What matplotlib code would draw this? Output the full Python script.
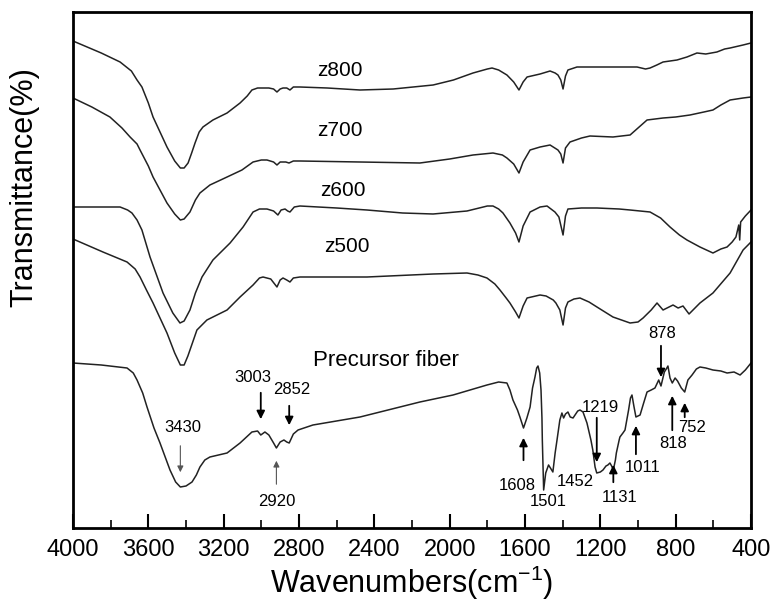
import numpy as np
import matplotlib
matplotlib.use('Agg')
import matplotlib.pyplot as plt
from matplotlib.ticker import MultipleLocator

plt.rcParams['font.family'] = ['Liberation Sans', 'DejaVu Sans']

# FTIR spectra, wavenumber (cm-1) vs offset transmittance (arb. units)
z800_w = [4000, 3850, 3750, 3690, 3660, 3634, 3600, 3575, 3501, 3460, 3430, 3410, 3389,
          3370, 3352, 3330, 3310, 3257, 3182, 3113, 3075, 3050, 3020, 2991, 2960, 2935,
          2917, 2900, 2885, 2865, 2848, 2830, 2795, 2650, 2476, 2300, 2088, 1980, 1876,
          1800, 1775, 1740, 1696, 1660, 1632, 1610, 1589, 1520, 1467, 1440, 1425, 1410,
          1398, 1385, 1372, 1324, 1200, 1005, 960, 936, 900, 867, 793, 740, 687, 640,
          581, 540, 511, 442, 400]
z800_t = [487, 475, 466, 457, 448, 441, 425, 411, 381, 367, 360, 360, 365,
          375, 385, 396, 401, 408, 415, 425, 432, 438, 440, 440, 440, 439,
          436, 439, 440, 440, 438, 441, 441, 440, 438, 439, 443, 448, 455,
          459, 460, 458, 453, 446, 438, 446, 451, 454, 457, 455, 453, 448,
          439, 452, 458, 461, 461, 461, 459, 460, 463, 466, 468, 471, 475, 474,
          476, 479, 480, 483, 485]

z700_w = [4000, 3900, 3804, 3740, 3697, 3660, 3644, 3600, 3575, 3501, 3460, 3430, 3410,
          3379, 3350, 3326, 3273, 3182, 3103, 3044, 3000, 2970, 2935, 2917, 2900, 2890,
          2870, 2853, 2830, 2795, 2476, 2158, 2000, 1876, 1770, 1720, 1696, 1660, 1632,
          1610, 1573, 1520, 1467, 1425, 1410, 1398, 1385, 1361, 1300, 1255, 1133, 1042,
          1000, 952, 867, 800, 724, 650, 602, 560, 511, 442, 400]
z700_t = [430, 421, 411, 400, 391, 384, 378, 362, 351, 325, 314, 308, 309,
          316, 328, 335, 343, 351, 358, 366, 368, 368, 366, 363, 366, 366,
          366, 365, 367, 367, 366, 365, 369, 373, 375, 373, 370, 364, 355,
          366, 378, 381, 383, 378, 374, 365, 380, 386, 390, 392, 391, 393,
          400, 408, 410, 411, 413, 416, 418, 423, 428, 430, 431]

z600_w = [4000, 3750, 3710, 3687, 3660, 3634, 3591, 3522, 3470, 3432, 3410, 3379, 3350,
          3315, 3257, 3166, 3097, 3044, 3010, 2970, 2935, 2912, 2895, 2874, 2860, 2848,
          2825, 2795, 2600, 2439, 2250, 2088, 1908, 1800, 1770, 1740, 1717, 1680, 1650,
          1632, 1610, 1573, 1520, 1483, 1441, 1420, 1398, 1385, 1372, 1300, 1218, 1100,
          1042, 936, 880, 830, 780, 740, 671, 602, 560, 527, 500, 480, 465, 460, 455,
          430, 400]
z600_t = [321, 321, 318, 315, 308, 298, 271, 235, 215, 205, 207, 218, 235,
          251, 268, 285, 301, 316, 319, 319, 317, 313, 318, 319, 317, 316,
          321, 322, 320, 318, 315, 314, 317, 322, 322, 319, 315, 305, 295,
          286, 302, 316, 321, 322, 316, 311, 293, 312, 319, 320, 320, 319,
          318, 316, 310, 301, 293, 288, 281, 275, 279, 281, 286, 291, 303, 288, 306,
          312, 318]

z500_w = [4000, 3841, 3713, 3670, 3644, 3610, 3575, 3501, 3460, 3430, 3410, 3390, 3342,
          3289, 3182, 3113, 3044, 3010, 2991, 2950, 2917, 2900, 2885, 2865, 2848, 2830,
          2795, 2439, 2088, 1908, 1850, 1802, 1760, 1733, 1700, 1680, 1650, 1632, 1610,
          1589, 1520, 1488, 1450, 1436, 1415, 1398, 1385, 1372, 1340, 1308, 1260, 1218,
          1133, 1042, 1000, 973, 930, 899, 867, 814, 787, 761, 729, 671, 602, 511, 442,
          400]
z500_t = [289, 276, 266, 259, 251, 238, 225, 195, 175, 163, 163, 172, 198,
          208, 218, 231, 243, 250, 251, 249, 241, 248, 250, 248, 246, 250,
          251, 251, 254, 255, 253, 250, 244, 238, 230, 225, 216, 210, 222,
          230, 233, 232, 228, 225, 218, 203, 220, 226, 229, 230, 226, 221,
          211, 205, 206, 210, 218, 225, 218, 223, 220, 222, 214, 225, 235, 255, 278,
          286]

fiber_w = [4000, 3850, 3713, 3680, 3660, 3630, 3607, 3570, 3538, 3485, 3455, 3430, 3400,
           3368, 3345, 3326, 3300, 3273, 3182, 3113, 3050, 3020, 3003, 2981, 2960, 2935,
           2920, 2900, 2880, 2865, 2852, 2830, 2805, 2726, 2476, 2158, 1982, 1802, 1740,
           1696, 1680, 1664, 1640, 1627, 1608, 1590, 1573, 1560, 1547, 1538, 1531, 1522,
           1515, 1510, 1508, 1501, 1490, 1475, 1465, 1452, 1440, 1430, 1415, 1404, 1395,
           1385, 1372, 1360, 1345, 1320, 1308, 1292, 1271, 1250, 1240, 1228, 1219, 1200,
           1186, 1170, 1160, 1149, 1140, 1131, 1120, 1115, 1100, 1096, 1080, 1069, 1050,
           1040, 1032, 1022, 1011, 1000, 989, 970, 952, 930, 910, 890, 878, 860, 850,
           841, 830, 818, 803, 790, 770, 752, 735, 713, 690, 671, 640, 602, 560, 527,
           490, 458, 430, 400]
fiber_t = [165, 163, 160, 155, 148, 135, 121, 100, 85, 58, 46, 41, 42,
           46, 53, 61, 68, 71, 75, 85, 96, 97, 93, 96, 93, 85,
           80, 86, 88, 86, 85, 94, 98, 103, 111, 126, 133, 143, 146,
           145, 138, 128, 118, 111, 100, 110, 121, 140, 151, 160, 162, 155,
           138, 110, 88, 38, 55, 63, 60, 56, 75, 88, 108, 115, 110,
           114, 116, 111, 110, 117, 118, 116, 105, 88, 78, 61, 55, 56,
           58, 62, 63, 65, 62, 58, 68, 75, 88, 91, 95, 98, 118,
           130, 133, 122, 111, 112, 113, 125, 136, 138, 140, 148, 142, 156, 159,
           162, 150, 145, 150, 147, 140, 136, 148, 153, 159, 161, 160, 158, 157, 155,
           156, 153, 158, 165]

curves = [(z800_w, z800_t), (z700_w, z700_t), (z600_w, z600_t),
          (z500_w, z500_t), (fiber_w, fiber_t)]

names = ['z800', 'z700', 'z600', 'z500', 'Precursor fiber']
name_pos = [(2582, 458), (2582, 398), (2566, 338), (2545, 281), (2338, 168)]

# peak labels: (text, wavenumber, text x, text y, arrow start, arrow end, thin)
peaks = [
    ('3430', 3430, 3416, 100, 85, 53, True),
    ('3003', 3003, 3044, 151, 138, 106, False),
    ('2852', 2852, 2837, 138, 125, 100, False),
    ('2920', 2920, 2917, 26, 41, 70, True),
    ('1608', 1608, 1642, 43, 65, 93, False),
    ('1501', None, 1478, 26, None, None, False),
    ('1452', None, 1335, 46, None, None, False),
    ('1219', 1219, 1202, 121, 113, 63, False),
    ('1131', 1131, 1096, 31, 43, 66, False),
    ('1011', 1011, 973, 60, 71, 105, False),
    ('878', 878, 872, 195, 185, 148, False),
    ('818', 818, 814, 85, 95, 135, False),
    ('752', 752, 713, 101, 108, 128, False),
]

fig = plt.figure(figsize=(7.77, 6.11), dpi=100)
ax = fig.add_axes([73 / 777, 1 - 528 / 611, 678 / 777, 516 / 611])

for w, t in curves:
    ax.plot(w, t, color='#222222', lw=1.1)

for name, (x, y) in zip(names, name_pos):
    fs = 16 if name == 'Precursor fiber' else 15
    ax.text(x, y, name, fontsize=fs, ha='center', va='center')

for label, w, tx, ty, a0, a1, thin in peaks:
    ax.text(tx, ty, label, fontsize=12, ha='center', va='center')
    if w is None:
        continue
    if thin:
        props = dict(arrowstyle='-|>', lw=0.8, color='#555555', mutation_scale=9)
    else:
        props = dict(arrowstyle='-|>', lw=1.3, color='black', mutation_scale=12)
    ax.annotate('', xy=(w, a1), xytext=(w, a0), arrowprops=props)

ax.set_xlim(4000, 400)
ax.set_ylim(0, 516)
ax.xaxis.set_major_locator(MultipleLocator(400))
ax.xaxis.set_minor_locator(MultipleLocator(200))
ax.set_yticks([])
ax.tick_params(axis='x', which='major', direction='in', length=10, width=1.5,
               labelsize=17, pad=8)
ax.tick_params(axis='x', which='minor', direction='in', length=6, width=1.2)
for sp in ax.spines.values():
    sp.set_linewidth(2)

ax.set_xlabel('Wavenumbers(cm$^{\\mathregular{-1}}$)', fontsize=22, labelpad=2)
ax.set_ylabel('Transmittance(%)', fontsize=22)
ax.yaxis.set_label_coords(-0.05, 0.66)

fig.savefig('out.png', dpi=100)
